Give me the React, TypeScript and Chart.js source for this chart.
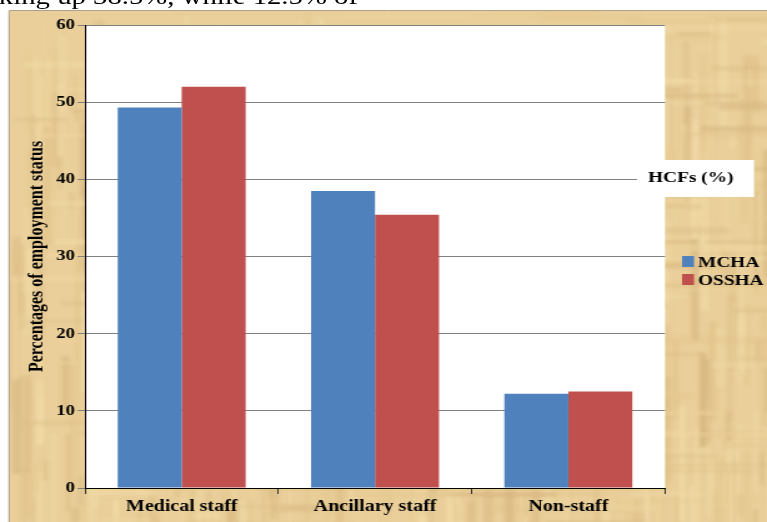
import { useEffect, useRef } from "react";
import { Chart, registerables } from "chart.js";

Chart.register(...registerables);

// ---- data ----
const categories = ["Medical staff", "Ancillary staff", "Non-staff"];
const mchaValues = [49.3, 38.5, 12.2];
const osshaValues = [52.0, 35.4, 12.5];
const seriesNames = ["MCHA", "OSSHA"];
const seriesColors = ["#4F81BD", "#C0504D"];
const yTicks = [0, 10, 20, 30, 40, 50, 60];
const yTitle = "Percentages of employment status";
const sideLabel = "HCFs (%)";
const leadText = "making up 38.5%, while 12.5% of";

// ---- page geometry ----
const PAGE_W = 767;
const PAGE_H = 522;
const CANVAS_W = 614; // drawn narrow, then widened horizontally on the page
const SX = PAGE_W / CANVAS_W;
const cx = (x: number) => x / SX;
const SERIF = "'Liberation Serif', 'Times New Roman', Times, serif";

// deterministic tone generator for the paper fibres
function makeSeq(seed: number) {
  let h = seed;
  return () => {
    h = (h * 16807) % 2147483647;
    return h / 2147483647;
  };
}

const paperPlugin = {
  id: "paper",
  beforeDraw(chart: any) {
    const { ctx, width, height, chartArea } = chart;
    const x0 = cx(9);
    const y0 = 11;
    ctx.save();
    ctx.beginPath();
    ctx.rect(x0, y0, width - x0, height - y0);
    ctx.clip();
    ctx.fillStyle = "#EACF9A";
    ctx.fillRect(x0, y0, width - x0, height - y0);
    const tones = ["#F1D9A5", "#E0C28A", "#EDD39D", "#DBBD85", "#F3DCA8", "#E5C890", "#D6B780"];
    const next = makeSeq(12345);
    ctx.filter = "blur(1.4px)";
    // vertical fibres
    for (let i = 0; i < 560; i++) {
      const x = x0 + next() * (width - x0);
      const y = y0 + next() * (height - y0);
      const w = 2 + next() * 6;
      const hgt = 15 + next() * 120;
      ctx.globalAlpha = 0.3 + next() * 0.4;
      ctx.fillStyle = tones[Math.floor(next() * tones.length)];
      ctx.fillRect(x, y, w, hgt);
    }
    // horizontal fibres
    for (let i = 0; i < 240; i++) {
      const x = x0 + next() * (width - x0);
      const y = y0 + next() * (height - y0);
      const w = 20 + next() * 120;
      const hgt = 2 + next() * 5;
      ctx.globalAlpha = 0.25 + next() * 0.35;
      ctx.fillStyle = tones[Math.floor(next() * tones.length)];
      ctx.fillRect(x, y, w, hgt);
    }
    ctx.filter = "none";
    ctx.globalAlpha = 1;
    ctx.restore();

    ctx.save();
    ctx.strokeStyle = "rgba(140,120,90,0.7)";
    ctx.lineWidth = 1;
    ctx.beginPath();
    ctx.moveTo(x0, y0 - 0.5);
    ctx.lineTo(width, y0 - 0.5);
    ctx.moveTo(x0, y0);
    ctx.lineTo(x0, height);
    ctx.stroke();
    // plot area
    ctx.fillStyle = "#FFFFFF";
    ctx.fillRect(chartArea.left, chartArea.top, chartArea.right - chartArea.left, chartArea.bottom - chartArea.top);
    ctx.restore();
  },
};

const sidePlugin = {
  id: "side",
  afterDraw(chart: any) {
    const { ctx } = chart;
    ctx.save();
    // label box
    ctx.fillStyle = "#FFFFFF";
    ctx.fillRect(cx(637), 160, cx(754) - cx(637), 37);
    ctx.fillStyle = "#000";
    ctx.font = `bold 15.5px ${SERIF}`;
    ctx.textBaseline = "alphabetic";
    ctx.textAlign = "left";
    ctx.fillText(sideLabel, cx(648), 182);

    // legend
    const rows = [256, 274];
    seriesNames.forEach((name, i) => {
      ctx.fillStyle = seriesColors[i];
      ctx.fillRect(cx(682), rows[i], cx(694) - cx(682), 11);
      ctx.fillStyle = "#000";
      ctx.fillText(name, cx(698), rows[i] + 11);
    });
    ctx.restore();
  },
};

export default function App() {
  const canvasRef = useRef<HTMLCanvasElement | null>(null);

  useEffect(() => {
    if (!canvasRef.current) return;
    const chart = new Chart(canvasRef.current, {
      type: "bar",
      data: {
        labels: categories,
        datasets: [
          {
            label: seriesNames[0],
            data: mchaValues,
            backgroundColor: seriesColors[0],
            borderWidth: 0,
            categoryPercentage: 0.662,
            barPercentage: 1,
          },
          {
            label: seriesNames[1],
            data: osshaValues,
            backgroundColor: seriesColors[1],
            borderWidth: 0,
            categoryPercentage: 0.662,
            barPercentage: 1,
          },
        ],
      },
      options: {
        responsive: false,
        animation: false,
        devicePixelRatio: 1,
        layout: { padding: { top: 25, right: CANVAS_W - cx(665), left: 0, bottom: 0 } },
        plugins: {
          legend: { display: false },
          tooltip: { enabled: false },
        },
        scales: {
          x: {
            offset: true,
            grid: {
              display: true,
              drawOnChartArea: false,
              drawTicks: true,
              tickLength: 6,
              color: "#333",
              offset: true,
            },
            border: { color: "#000", width: 1 },
            ticks: {
              color: "#000",
              font: { family: SERIF, size: 16, weight: "bold" },
              padding: 3,
              maxRotation: 0,
            },
            afterFit: (s: any) => {
              s.height = PAGE_H - 488;
            },
          },
          y: {
            min: yTicks[0],
            max: yTicks[yTicks.length - 1],
            ticks: {
              stepSize: yTicks[1] - yTicks[0],
              color: "#000",
              font: { family: SERIF, size: 15, weight: "bold" },
              padding: 2,
            },
            grid: { color: "#808080", tickLength: 6, lineWidth: 1 },
            border: { color: "#000", width: 1 },
            title: {
              display: true,
              text: yTitle,
              color: "#000",
              font: { family: SERIF, size: 16, weight: "bold" },
              padding: { top: 20, bottom: 0 },
            },
            afterFit: (s: any) => {
              s.width = cx(85);
            },
          },
        },
      },
      plugins: [paperPlugin, sidePlugin],
    });
    return () => chart.destroy();
  }, []);

  return (
    <div
      style={{
        position: "absolute",
        left: 0,
        top: 0,
        width: CANVAS_W,
        height: PAGE_H,
        transform: `scaleX(${SX})`,
        transformOrigin: "0 0",
        background: "#fff",
        overflow: "hidden",
      }}
    >
      <canvas
        ref={canvasRef}
        width={CANVAS_W}
        height={PAGE_H}
        style={{ display: "block", width: CANVAS_W, height: PAGE_H }}
      />
      <div
        style={{
          position: "absolute",
          left: 0,
          top: 0,
          width: cx(358),
          height: 11,
          overflow: "hidden",
        }}
      >
        <span
          style={{
            position: "absolute",
            right: 0,
            top: -15,
            fontFamily: SERIF,
            fontSize: 23,
            lineHeight: "23px",
            whiteSpace: "nowrap",
            color: "#000",
          }}
        >
          {leadText}
        </span>
      </div>
    </div>
  );
}
